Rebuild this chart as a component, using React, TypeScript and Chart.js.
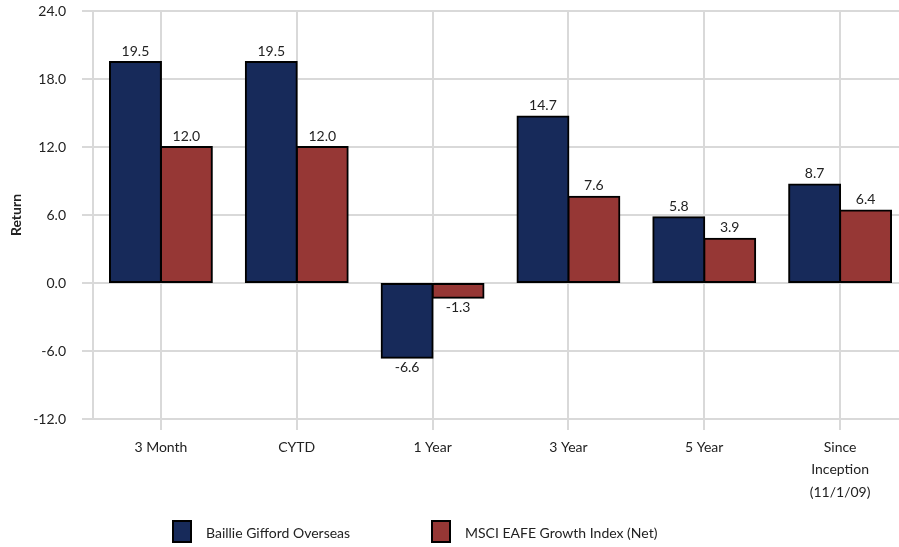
import React, { useEffect, useRef } from "react";
import { Chart, registerables } from "chart.js";

Chart.register(...registerables);

const categories: (string | string[])[] = [
  "3 Month",
  "CYTD",
  "1 Year",
  "3 Year",
  "5 Year",
  ["Since", "Inception", "(11/1/09)"],
];
const seriesNames = ["Baillie Gifford Overseas", "MSCI EAFE Growth Index (Net)"];
const baillieValues = [19.5, 19.5, -6.6, 14.7, 5.8, 8.7];
const msciValues = [12.0, 12.0, -1.3, 7.6, 3.9, 6.4];
const seriesColors = ["#172A5A", "#963735"];
const yMin = -12;
const yMax = 24;
const yStep = 6;

const FONT = "Lato, 'Open Sans', sans-serif";
const TEXT = "#222222";
const GRID = "#d9d9d9";

const dataLabelPlugin = {
  id: "dataLabels",
  afterDatasetsDraw(chart: any) {
    const ctx = chart.ctx;
    ctx.save();
    ctx.font = `14px ${FONT}`;
    ctx.fillStyle = TEXT;
    ctx.textAlign = "center";
    chart.data.datasets.forEach((ds: any, i: number) => {
      const meta = chart.getDatasetMeta(i);
      meta.data.forEach((el: any, j: number) => {
        const v = ds.data[j] as number;
        if (v >= 0) {
          ctx.textBaseline = "bottom";
          ctx.fillText(v.toFixed(1), el.x, el.y - 4);
        } else {
          ctx.textBaseline = "top";
          ctx.fillText(v.toFixed(1), el.x, el.y + 3);
        }
      });
    });
    ctx.restore();
  },
};

export default function App() {
  const ref = useRef<HTMLCanvasElement | null>(null);

  useEffect(() => {
    if (!ref.current) return;
    const chart = new Chart(ref.current, {
      type: "bar",
      data: {
        labels: categories,
        datasets: [
          {
            label: seriesNames[0],
            data: baillieValues,
            backgroundColor: seriesColors[0],
            borderColor: "#000000",
            borderWidth: 2,
            borderSkipped: false,
            inflateAmount: 1,
          },
          {
            label: seriesNames[1],
            data: msciValues,
            backgroundColor: seriesColors[1],
            borderColor: "#000000",
            borderWidth: 2,
            borderSkipped: false,
            inflateAmount: 1,
          },
        ],
      },
      options: {
        responsive: false,
        maintainAspectRatio: false,
        animation: false,
        layout: { padding: { left: 0, top: 11, right: 2, bottom: 0 } },
        datasets: {
          bar: { categoryPercentage: 0.75, barPercentage: 1.0 },
        },
        plugins: {
          legend: { display: false },
          tooltip: { enabled: false },
        },
        scales: {
          x: {
            offset: true,
            grid: {
              offset: false,
              color: GRID,
              lineWidth: 2,
              tickLength: 11,
              drawTicks: true,
            },
            border: { color: GRID, width: 2 },
            ticks: {
              color: TEXT,
              font: { family: FONT, size: 14, lineHeight: 1.6 },
              padding: 6,
              maxRotation: 0,
              autoSkip: false,
            },
            afterFit: (s: any) => {
              s.height = 128;
              s.paddingLeft = 0;
              s.paddingRight = 0;
            },
          },
          y: {
            min: yMin,
            max: yMax,
            grid: { color: GRID, lineWidth: 2, tickLength: 11 },
            border: { color: GRID, width: 2 },
            ticks: {
              stepSize: yStep,
              color: TEXT,
              font: { family: FONT, size: 14 },
              padding: 16,
              callback: (v: any) => Number(v).toFixed(1),
            },
            title: {
              display: true,
              text: "Return",
              color: TEXT,
              font: { family: FONT, size: 14, weight: "bold" },
              padding: { top: 8, bottom: 0 },
            },
            afterFit: (s: any) => {
              s.width = 93;
              s.paddingTop = 0;
              s.paddingBottom = 0;
            },
          },
        },
      },
      plugins: [dataLabelPlugin],
    });
    return () => chart.destroy();
  }, []);

  const legendItem = (name: string, color: string, boxLeft: number, textLeft: number) => (
    <div key={name}>
      <div
        style={{
          position: "absolute",
          left: boxLeft,
          top: 520,
          width: 16,
          height: 19,
          background: color,
          border: "2px solid #000",
        }}
      />
      <div
        style={{
          position: "absolute",
          left: textLeft,
          top: 523,
          fontFamily: FONT,
          fontSize: 14,
          lineHeight: "19px",
          color: TEXT,
          whiteSpace: "nowrap",
        }}
      >
        {name}
      </div>
    </div>
  );

  return (
    <div
      style={{
        position: "absolute",
        left: 0,
        top: 0,
        width: 899,
        height: 547,
        overflow: "hidden",
        background: "#fff",
      }}
    >
      <canvas ref={ref} width={910} height={547} style={{ display: "block" }} />
      {legendItem(seriesNames[0], seriesColors[0], 172, 206)}
      {legendItem(seriesNames[1], seriesColors[1], 431, 465)}
    </div>
  );
}
